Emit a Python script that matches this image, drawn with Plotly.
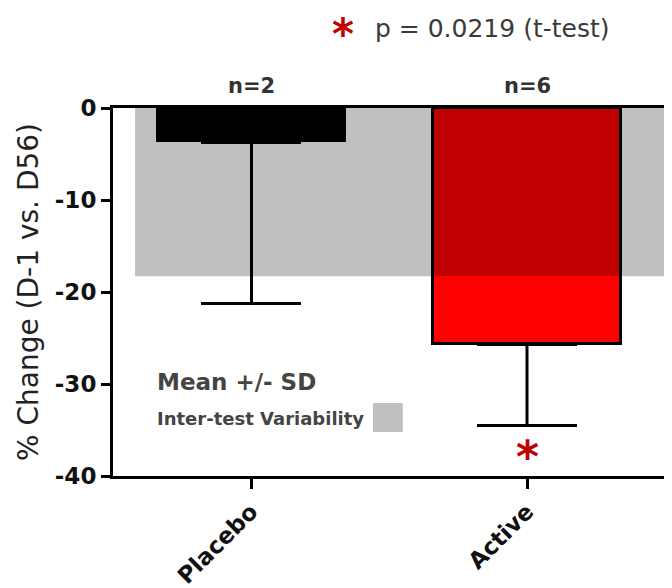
import plotly.graph_objects as go

# ---- data ----
groups = ["Placebo", "Active"]
mean_change = [-3.7, -25.7]
sd_change = [17.5, 8.8]
n_labels = ["n=2", "n=6"]
inter_test_variability = 18.3
p_text = "p = 0.0219 (t-test)"
y_tick_values = [0, -10, -20, -30, -40]
y_tick_labels = ["0", "-10", "-20", "-30", "-40"]

FONT = "DejaVu Sans"
DARK_RED = "#c00000"
RED = "#ff0000"
GRAY = "#c0c0c0"

fig = go.Figure()

# Placebo bar (black)
fig.add_trace(go.Bar(
    x=[groups[0]], y=[mean_change[0]], width=0.69,
    marker=dict(color="black", line=dict(width=0)),
    error_y=dict(type="data", symmetric=False, array=[0], arrayminus=[sd_change[0]],
                 color="black", thickness=3, width=50),
    showlegend=False, hoverinfo="skip",
))

# Active bar: part overlapping the variability band (darker), rest bright red
overlap = max(mean_change[1], -inter_test_variability)
fig.add_trace(go.Bar(
    x=[groups[1]], y=[overlap], width=0.68,
    marker=dict(color=DARK_RED, line=dict(width=0)),
    showlegend=False, hoverinfo="skip",
))
fig.add_trace(go.Bar(
    x=[groups[1]], y=[mean_change[1] - overlap], base=[overlap], width=0.68,
    marker=dict(color=RED, line=dict(width=0)),
    showlegend=False, hoverinfo="skip",
))
# Outline + error bar for Active
fig.add_trace(go.Bar(
    x=[groups[1]], y=[mean_change[1]], width=0.68,
    marker=dict(color="rgba(0,0,0,0)", line=dict(width=3, color="black")),
    error_y=dict(type="data", symmetric=False, array=[0], arrayminus=[sd_change[1]],
                 color="black", thickness=3, width=50),
    showlegend=False, hoverinfo="skip",
))

# inter-test variability band
fig.add_shape(type="rect", xref="paper", yref="y", x0=0.04, x1=1.0,
              y0=0, y1=-inter_test_variability, fillcolor=GRAY,
              line=dict(width=0), layer="below")

# legend square
fig.add_shape(type="rect", xref="paper", yref="paper", x0=0.471, x1=0.525,
              y0=0.1196, y1=0.1984, fillcolor=GRAY, line=dict(width=0))

ann = []
for g, t in zip(groups, n_labels):
    ann.append(dict(x=g, xref="x", y=1.06, yref="paper", text=t, showarrow=False,
                    xanchor="center", yanchor="middle",
                    font=dict(family=FONT, size=21, color="#333", weight="bold")))
ann.append(dict(x=0.471, xref="paper", y=1.2147, yref="paper", text=p_text,
                showarrow=False, xanchor="left", yanchor="middle",
                font=dict(family=FONT, size=25, color="#3a3a3a")))
ann.append(dict(x=0.417, xref="paper", y=1.2, yref="paper", text="*",
                showarrow=False, xanchor="center", yanchor="middle",
                font=dict(family=FONT, size=42, color=DARK_RED, weight="bold")))
ann.append(dict(x=groups[1], xref="x", y=0.07, yref="paper", text="*",
                showarrow=False, xanchor="center", yanchor="middle", yshift=-6,
                font=dict(family=FONT, size=44, color=DARK_RED, weight="bold")))
ann.append(dict(x=0.0761, xref="paper", y=0.2554, yref="paper", text="Mean +/- SD",
                showarrow=False, xanchor="left", yanchor="middle",
                font=dict(family=FONT, size=23, color="#444", weight="bold")))
ann.append(dict(x=0.0761, xref="paper", y=0.1576, yref="paper", text="Inter-test Variability",
                showarrow=False, xanchor="left", yanchor="middle",
                font=dict(family=FONT, size=18, color="#444", weight="bold")))

fig.update_layout(
    width=672, height=588,
    margin=dict(l=105, r=15, t=100, b=120, autoexpand=False),
    paper_bgcolor="white", plot_bgcolor="white",
    barmode="overlay", bargap=0,
    showlegend=False,
    annotations=ann,
    font=dict(family=FONT, color="#111"),
)
fig.update_xaxes(
    range=[-0.5, 1.5], showline=True, linewidth=3, linecolor="black", mirror=True,
    ticks="outside", ticklen=10, tickwidth=3, tickcolor="black",
    tickangle=-45, showgrid=False, zeroline=False, automargin=False,
    tickfont=dict(family=FONT, size=23, color="#111", weight="bold"),
)
fig.update_yaxes(
    range=[-40, 0], tickmode="array", tickvals=y_tick_values, ticktext=y_tick_labels,
    showline=True, linewidth=3, linecolor="black",
    ticks="outside", ticklen=9, tickwidth=3, tickcolor="black",
    showgrid=False, zeroline=False, automargin=False,
    tickfont=dict(family=FONT, size=23, color="#111", weight="bold"),
    title=dict(text="% Change (D-1 vs. D56)", standoff=9,
               font=dict(family=FONT, size=28, color="#222")),
)

fig.write_html("out.html")
